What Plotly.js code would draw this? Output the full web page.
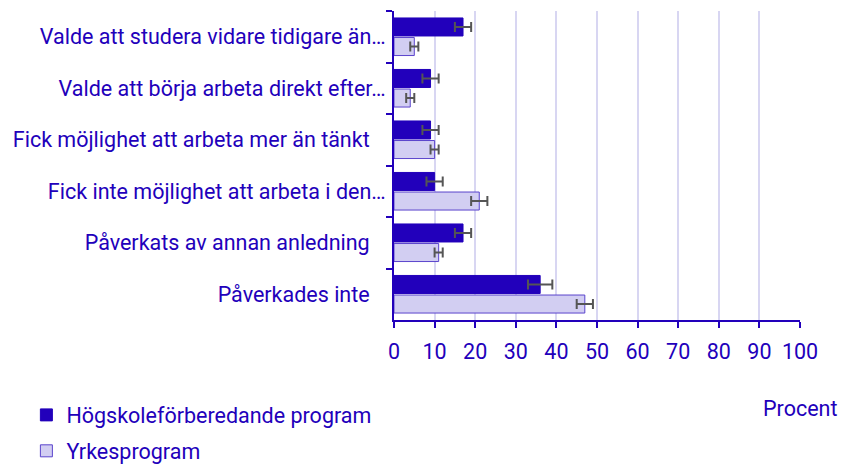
<!DOCTYPE html>
<html>
<head>
<meta charset="utf-8">
<script src="https://cdn.plot.ly/plotly-3.0.1.min.js"></script>
<style>html,body{margin:0;padding:0;background:#fff;}#chart{width:851px;height:464px;}</style>
</head>
<body>
<div id="chart"></div>
<script>
const categories = [
  "Valde att studera vidare tidigare än…",
  "Valde att börja arbeta direkt efter…",
  "Fick möjlighet att arbeta mer än tänkt\u00a0\u00a0\u00a0",
  "Fick inte möjlighet att arbeta i den…",
  "Påverkats av annan anledning\u00a0\u00a0\u00a0",
  "Påverkades inte\u00a0\u00a0\u00a0"
];
const seriesNames = ["Högskoleförberedande program", "Yrkesprogram"];
const hogskoleValues = [17, 9, 9, 10, 17, 36];
const hogskoleErrors = [2, 2, 2, 2, 2, 3];
const yrkesValues = [5, 4, 10, 21, 11, 47];
const yrkesErrors = [1, 1, 1, 2, 1, 2];
const xTicks = [0, 10, 20, 30, 40, 50, 60, 70, 80, 90, 100];

const textColor = "#2200bb";
const fam = "Roboto, 'Open Sans', sans-serif";
const fs = 21.5;

const traces = [
  {
    type: "bar", orientation: "h", name: seriesNames[0], legendgroup: "a",
    y: categories, x: hogskoleValues,
    marker: {color: "#2200bb", line: {color: "#2200bb", width: 1}},
    error_x: {type: "data", array: hogskoleErrors, visible: true, color: "#555555", thickness: 2, width: 5},
    hoverinfo: "x+name"
  },
  {
    type: "bar", orientation: "h", name: seriesNames[1], legendgroup: "b",
    y: categories, x: yrkesValues,
    marker: {color: "#d2cef2", line: {color: "#5a44cc", width: 1}},
    error_x: {type: "data", array: yrkesErrors, visible: true, color: "#555555", thickness: 2, width: 5},
    hoverinfo: "x+name"
  }
];

const layout = {
  width: 851, height: 464,
  margin: {l: 394, r: 51, t: 11, b: 144},
  paper_bgcolor: "#ffffff", plot_bgcolor: "#ffffff",
  font: {family: fam, size: fs, color: textColor},
  barmode: "group", bargap: 0.24, bargroupgap: 0.08,
  showlegend: true,
  legend: {
    orientation: "v", xref: "container", yref: "container",
    x: 0.031, y: 0.15, xanchor: "left", yanchor: "top",
    font: {family: fam, size: fs, color: textColor},
    itemwidth: 30, tracegroupgap: 5, bgcolor: "rgba(0,0,0,0)"
  },
  xaxis: {
    range: [0, 100], tickvals: xTicks, ticktext: xTicks.map(String),
    showgrid: true, gridcolor: "#d8d6f2", gridwidth: 2,
    showline: true, linecolor: textColor, linewidth: 2,
    ticks: "outside", ticklen: 6, tickcolor: textColor, tickwidth: 2,
    tickfont: {family: fam, size: fs, color: textColor},
    ticklabelstandoff: 5,
    zeroline: false, fixedrange: true
  },
  yaxis: {
    autorange: "reversed", type: "category",
    showline: true, linecolor: textColor, linewidth: 2,
    ticks: "outside", tickson: "boundaries", ticklen: 6, tickcolor: textColor, tickwidth: 2,
    tickfont: {family: fam, size: fs, color: textColor},
    showgrid: false, ticklabelstandoff: 2, fixedrange: true
  },
  annotations: [{
    text: "Procent", xref: "paper", yref: "paper", x: 1, y: -0.285,
    xanchor: "center", yanchor: "middle", showarrow: false,
    font: {family: fam, size: fs, color: textColor}
  }]
};

Plotly.newPlot("chart", traces, layout, {displayModeBar: false, staticPlot: true});
</script>
</body>
</html>
